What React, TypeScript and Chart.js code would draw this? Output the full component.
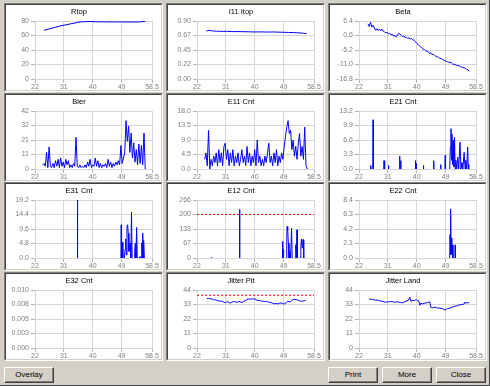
import React, { useEffect, useRef } from 'react';
import { Chart, registerables } from 'chart.js';

Chart.register(...registerables);

// ---------- shared x axis ----------
const X_MIN = 22;
const X_MAX = 58.5;
const X_TICKS = [22, 31, 40, 49, 58.5];
const X_TICK_LABELS = ['22', '31', '40', '49', '58.5'];

// sample positions shared by the dense series
const SAMPLE_X = [
  24.4, 24.8, 25.2, 25.6, 26.0, 26.4, 26.8, 27.2, 27.6, 28.0,
  28.4, 28.8, 29.2, 29.6, 30.0, 30.4, 30.8, 31.2, 31.6, 32.0,
  32.4, 32.8, 33.2, 33.6, 34.0, 34.4, 34.8, 35.2, 35.6, 36.0,
  36.4, 36.8, 37.2, 37.6, 38.0, 38.4, 38.8, 39.2, 39.6, 40.0,
  40.4, 40.8, 41.2, 41.6, 42.0, 42.4, 42.8, 43.2, 43.6, 44.0,
  44.4, 44.8, 45.2, 45.6, 46.0, 46.4, 46.8, 47.2, 47.6, 48.0,
  48.4, 48.8, 49.2, 49.6, 50.0, 50.4, 50.8, 51.2, 51.6, 52.0,
  52.4, 52.8, 53.2, 53.6, 54.0, 54.4, 54.8, 55.2, 55.6, 56.0,
  56.4,
];

// ---------- Rtop ----------
const RTOP_X = [24.8, 25.1, 26.7, 28.3, 29.8, 31.4, 32.9, 34.5, 36.1, 37.6, 39.2, 40.8, 42.3, 44.4, 46.5, 48.6, 50.7, 52.8, 54.8, 56.4];
const RTOP_Y = [66.5, 67.6, 69.4, 71.3, 73.1, 74.5, 75.9, 77.3, 78.7, 79.1, 79.3, 79.0, 78.9, 78.8, 78.7, 78.8, 78.6, 78.7, 78.7, 79.6];
const RTOP_TICKS = ['0', '20', '40', '60', '80'];

// ---------- I11 Itop ----------
const I11_X = [24.9, 25.4, 26.0, 26.5, 27.0, 28.0, 29.1, 30.2, 31.2, 32.3, 33.3, 34.8, 36.4, 38.0, 39.5, 41.0, 42.6, 44.2, 45.8, 47.3, 48.9, 50.5, 52.0, 53.0, 54.1, 55.2, 56.2];
const I11_Y = [0.745, 0.75, 0.756, 0.748, 0.745, 0.742, 0.74, 0.738, 0.74, 0.737, 0.735, 0.736, 0.734, 0.733, 0.73, 0.731, 0.73, 0.729, 0.73, 0.727, 0.725, 0.723, 0.72, 0.718, 0.715, 0.71, 0.704];
const I11_TICKS = ['0.00', '0.22', '0.45', '0.67', '0.90'];

// ---------- Beta ----------
const BETA_Y = [
  null, 5.3, 4.2, 5.9, 4.0, 4.7, 3.6, 2.7, 3.3, 2.6,
  3.2, 2.5, 3.1, 2.2, 2.0, 1.6, 1.9, 1.2, 1.4, 0.9,
  1.1, 0.4, 0.5, 0.1, 0.8, 1.5, 1.1, 0.6, 0.2, 0.4,
  -0.3, -0.1, -0.5, -0.4, -0.8, -0.6, -1.1, -1.3, -1.9, -2.5,
  -2.9, -3.5, -3.9, -4.2, -4.9, -5.0, -5.5, -5.7, -6.0, -6.5,
  -6.3, -7.0, -7.0, -7.3, -7.7, -8.0, -8.1, -8.5, -8.6, -9.0,
  -9.2, -9.5, -9.7, -9.9, -10.1, -10.2, -10.3, -10.8, -10.9, -11.1,
  -11.3, -11.5, -11.4, -11.9, -12.0, -12.1, -12.3, -12.6, -12.9, -13.2,
  -13.7,
];
const BETA_TICKS = ['-16.8', '-11.0', '-5.2', '0.6', '6.4'];

// ---------- Bler ----------
const BLER_Y = [
  3, 4, 2, 12, 1, 16, 2, 1, 4, 1,
  6, 2, 7, 1, 8, 2, 5, 1, 7, 3,
  6, 1, 3, 1, 4, 2, 23, 2, 1, 3,
  1, 2, 1, 3, 1, 5, 2, 7, 1, 3,
  2, 8, 2, 6, 1, 4, 1, 3, 2, 4,
  1, 7, 2, 5, 1, 4, 2, 5, 3, 6,
  3, 17, 4, 8, 12, 35, 20, 31, 12, 26,
  8, 19, 5, 14, 3, 18, 4, 17, 3, 26,
  0,
];
const BLER_TICKS = ['0', '11', '21', '32', '42'];

// ---------- E11 Cnt ----------
const E11_Y = [
  3, 5, 1, 12, 0, 3, 1, 4, 2, 5,
  1, 6, 2, 5, 1, 7, 8, 3, 6, 1,
  5, 2, 6, 1, 4, 2, 5, 1, 3, 6,
  2, 4, 1, 7, 2, 5, 1, 4, 2, 6,
  1, 9, 2, 4, 1, 3, 1, 4, 2, 5,
  8, 2, 4, 1, 5, 2, 6, 1, 4, 2,
  5, 3, 7, 10, 13, 15, 11, 12, 6, 9,
  4, 7, 3, 8, 11, 4, 7, 3, 13, 1,
  0,
];
const E11_TICKS = ['0.0', '4.5', '9.0', '13.5', '18.0'];

// ---------- E21 Cnt ----------
const E21_X = [
  25.55, 25.65, 25.75, 26.0, 26.3, 26.4, 26.5, 27.0,
  29.7, 29.8, 29.9, 30.0, 30.1, 30.5, 31.1, 31.2, 31.3, 32.0,
  34.6, 34.7, 34.8, 35.0, 35.1, 36.0, 39.5, 39.6, 39.7, 39.8, 39.9, 41.0,
  42.0, 42.1, 42.2, 43.0, 45.2, 45.3, 45.4, 46.0, 47.4, 47.5, 47.6, 48.0,
  48.8, 48.9, 49.0, 49.5,
  50.3, 50.5, 50.7, 50.85, 51.0, 51.2, 51.4, 51.6, 51.8, 52.0, 52.2, 52.5, 52.8,
  53.1, 53.5, 53.8, 54.1, 54.4, 54.8, 55.1, 55.3, 55.6, 55.9, 56.1, 56.2, 56.3,
];
const E21_Y = [
  0, 0.8, 0, null, 0, 11.2, 0, null,
  0, 1.9, 0, 1.9, 0, null, 0, 0.8, 0, null,
  0, 2.9, 0, 1.9, 0, null, 0, 1.9, 0, 1.2, 0, null,
  0, 0.8, 0, null, 0, 1.9, 0, null, 0, 1.0, 0, null,
  0, 3.1, 0, null,
  0, 5.0, 9.2, 2.0, 8.0, 1.0, 6.5, 0.5, 7.2, 0, 2.0, 0, 2.7,
  0, 6.1, 0, 1.5, 0, 3.8, 0, 2.0, 0, 5.0, 0, 1.0, 0,
];
const E21_TICKS = ['0.0', '3.3', '6.6', '9.9', '13.2'];

// ---------- E31 Cnt ----------
const E31_X = [
  35.2, 35.25, 35.3, 40.0,
  48.8, 48.9, 49.0, 49.2, 49.4, 49.6,
  49.9, 50.1, 50.3, 50.5, 50.7, 50.9, 51.1, 51.3, 51.5, 51.7, 51.9, 52.1, 52.3, 52.6,
  52.9, 53.1, 53.3, 53.5, 53.7, 53.9, 54.2,
  54.6, 54.8, 55.1, 55.3, 55.5, 55.6, 55.8, 55.9, 56.1,
];
const E31_Y = [
  0, 19.2, 0, null,
  0, 11, 0, 5.2, 0, null,
  0, 3, 6.3, 1, 10.4, 11, 8.2, 2.2, 3, 5, 0, 15.1, 0, null,
  0, 2, 4.9, 0, 10.1, 0, null,
  0, 0.5, 0, 5, 0, 8.2, 0, 5.8, 0,
];
const E31_TICKS = ['0.0', '4.8', '9.6', '14.4', '19.2'];

// ---------- E12 Cnt ----------
const E12_X = [
  26.3, 26.7, 30.0,
  35.2, 35.25, 35.3, 35.35, 35.4, 40.0,
  48.6, 48.7, 48.8, 48.9, 49.0, 49.4,
  49.8, 50.0, 50.1, 50.3, 50.5, 50.7, 51.0, 51.2, 51.5, 51.7, 52.2,
  52.6, 52.8, 53.0, 53.2, 53.3, 53.8,
  54.2, 54.4, 54.6, 54.8, 55.0, 55.2, 55.3,
];
const E12_Y = [
  1, 1, null,
  0, 223, 0, 208, 0, null,
  0, 76, 0, 38, 0, null,
  0, 91, 144, 129, 68, 0, 30, 0, 137, 0, null,
  0, 61, 0, 129, 0, null,
  0, 53, 87, 46, 84, 84, 0,
];
const E12_LIMIT = 200;
const E12_TICKS = ['0', '67', '133', '200', '266'];

// ---------- E22 Cnt ----------
const E22_X = [50.3, 50.4, 50.5, 50.65, 50.75, 50.9, 51.0, 51.2, 51.3, 51.6, 51.9, 52.0, 52.1];
const E22_Y = [0, 3.4, 0.5, 7.1, 1, 2.9, 0.5, 1.9, 0, null, 0, 1.9, 0];
const E22_TICKS = ['0.0', '2.1', '4.2', '6.3', '8.4'];

// ---------- E32 Cnt ----------
const E32_X: number[] = [];
const E32_Y: number[] = [];
const E32_TICKS = ['0.000', '0.003', '0.005', '0.008', '0.010'];

// ---------- Jitter Pit ----------
const JP_X = [
  25.1, 25.6, 26.2, 26.7, 27.2, 27.8, 28.3, 28.8, 29.3, 29.8,
  30.3, 30.9, 31.4, 31.9, 32.4, 32.9, 33.4, 34.0, 34.5, 35.0,
  35.5, 36.1, 36.6, 37.1, 37.6, 38.1, 38.6, 39.1, 39.6, 40.1,
  40.6, 41.1, 41.6, 42.1, 42.6, 43.1, 43.6, 44.1, 44.6, 45.1,
  45.6, 46.2, 46.7, 47.2, 47.7, 48.2, 48.7, 49.3, 49.8, 50.3,
  50.8, 51.3, 51.8, 52.3, 52.9, 53.4, 53.9, 54.4, 54.9, 55.4,
  55.9,
];
const JP_Y = [
  37.5, 37.6, 37.4, 37.2, 36.4, 36.6, 36.0, 35.9, 35.4, 35.7,
  34.8, 34.4, 35.2, 34.6, 34.0, 34.8, 35.3, 35.0, 34.5, 35.4,
  35.0, 34.4, 35.6, 35.9, 36.8, 37.2, 37.0, 37.3, 37.2, 37.2,
  36.4, 36.0, 36.2, 35.4, 35.6, 35.2, 35.4, 34.9, 34.7, 34.4,
  34.0, 33.6, 33.8, 33.4, 33.9, 34.2, 33.8, 33.4, 34.2, 35.4,
  35.0, 35.2, 36.7, 36.9, 36.7, 36.4, 35.9, 35.6, 35.4, 36.0,
  35.8,
];
const JP_LIMIT = 40;
const JITTER_TICKS = ['0', '11', '22', '33', '44'];

// ---------- Jitter Land ----------
const JL_X = [
  25.1, 25.6, 26.2, 26.7, 27.2, 27.8, 28.3, 28.8, 29.3, 29.8,
  30.3, 30.9, 31.4, 31.9, 32.4, 33.0, 33.5, 34.0, 34.5, 35.0,
  35.6, 36.1, 36.6, 37.0, 37.4, 37.85, 38.2, 38.7, 39.2, 39.6,
  39.9, 40.3, 40.6, 41.0, 41.3, 41.8, 42.3, 42.9, 43.3, 43.7,
  44.1, 44.4, 44.9, 45.5, 46.0, 46.5, 47.0, 47.6, 48.1, 48.5,
  48.9, 49.2, 49.6, 50.1, 50.7, 51.2, 51.7, 52.3, 52.8, 53.3,
  53.8, 54.3, 54.8, 55.1, 55.4, 55.9, 56.4,
];
const JL_Y = [
  37.2, 37.0, 36.9, 36.6, 36.2, 36.4, 35.9, 35.6, 35.4, 35.0,
  34.7, 35.1, 34.9, 35.3, 35.2, 34.8, 34.9, 35.1, 34.7, 34.5,
  34.2, 34.9, 35.4, 35.8, 36.2, 38.5, 35.4, 36.2, 35.9, 36.5,
  36.7, 35.8, 36.0, 32.4, 34.0, 33.4, 33.9, 34.2, 34.5, 34.7,
  35.0, 30.9, 30.4, 30.9, 30.9, 30.2, 30.4, 30.1, 29.9, 29.3,
  28.8, 29.4, 29.9, 30.1, 30.6, 31.0, 31.6, 31.8, 32.4, 32.6,
  32.9, 33.1, 33.4, 34.9, 34.0, 34.4, 34.2,
];

// ---------- panel list ----------
type Panel = {
  title: string;
  xs: number[];
  ys: (number | null)[];
  yMin: number;
  yMax: number;
  yLabels: string[];
  limit?: number;
};

const PANELS: Panel[] = [
  { title: 'Rtop', xs: RTOP_X, ys: RTOP_Y, yMin: 0, yMax: 80, yLabels: RTOP_TICKS },
  { title: 'I11 Itop', xs: I11_X, ys: I11_Y, yMin: 0, yMax: 0.9, yLabels: I11_TICKS },
  { title: 'Beta', xs: SAMPLE_X, ys: BETA_Y, yMin: -16.8, yMax: 6.4, yLabels: BETA_TICKS },
  { title: 'Bler', xs: SAMPLE_X, ys: BLER_Y, yMin: 0, yMax: 42, yLabels: BLER_TICKS },
  { title: 'E11 Cnt', xs: SAMPLE_X, ys: E11_Y, yMin: 0, yMax: 18, yLabels: E11_TICKS },
  { title: 'E21 Cnt', xs: E21_X, ys: E21_Y, yMin: 0, yMax: 13.2, yLabels: E21_TICKS },
  { title: 'E31 Cnt', xs: E31_X, ys: E31_Y, yMin: 0, yMax: 19.2, yLabels: E31_TICKS },
  { title: 'E12 Cnt', xs: E12_X, ys: E12_Y, yMin: 0, yMax: 266, yLabels: E12_TICKS, limit: E12_LIMIT },
  { title: 'E22 Cnt', xs: E22_X, ys: E22_Y, yMin: 0, yMax: 8.4, yLabels: E22_TICKS },
  { title: 'E32 Cnt', xs: E32_X, ys: E32_Y, yMin: 0, yMax: 0.01, yLabels: E32_TICKS },
  { title: 'Jitter Pit', xs: JP_X, ys: JP_Y, yMin: 0, yMax: 44, yLabels: JITTER_TICKS, limit: JP_LIMIT },
  { title: 'Jitter Land', xs: JL_X, ys: JL_Y, yMin: 0, yMax: 44, yLabels: JITTER_TICKS },
];

const BUTTONS = [
  { label: 'Overlay', left: 4 },
  { label: 'Print', left: 328 },
  { label: 'More', left: 382 },
  { label: 'Close', left: 436 },
];

const FONT = "'Liberation Sans', Arial, sans-serif";
const GRID = '#d6d6d6';
const TICK_TEXT = '#808080';

const COL_LEFT = [4, 166, 328];
const ROW_TOP = [3, 93, 182, 272];
const PANEL_W = 159;
const PANEL_H = 89;
const CANVAS_W = PANEL_W - 4;
const CANVAS_H = PANEL_H - 4;

function MiniChart({ panel }: { panel: Panel }) {
  const ref = useRef<HTMLCanvasElement | null>(null);

  useEffect(() => {
    if (!ref.current) return;
    const datasets: any[] = [
      {
        data: panel.xs.map((x, i) => ({ x, y: panel.ys[i] })),
        borderColor: '#0000ff',
        backgroundColor: '#0000ff',
        borderWidth: 1,
        pointRadius: 0,
        tension: 0,
        spanGaps: false,
        fill: false,
      },
    ];
    if (panel.limit !== undefined) {
      datasets.push({
        data: [
          { x: X_MIN, y: panel.limit },
          { x: X_MAX, y: panel.limit },
        ],
        borderColor: '#ff0000',
        borderWidth: 1,
        borderDash: [2, 2],
        pointRadius: 0,
        fill: false,
      });
    }
    const n = panel.yLabels.length;
    const yTickValues = panel.yLabels.map(
      (_, i) => panel.yMin + ((panel.yMax - panel.yMin) * i) / (n - 1)
    );
    const tickFont = { family: FONT, size: 7 };

    const chart = new Chart(ref.current, {
      type: 'line',
      data: { datasets },
      options: {
        animation: false,
        responsive: false,
        devicePixelRatio: 1,
        events: [],
        layout: { padding: { left: 0, right: 9, top: 0, bottom: 0 } },
        plugins: {
          legend: { display: false },
          tooltip: { enabled: false },
          title: {
            display: true,
            text: panel.title,
            color: '#000000',
            font: { family: FONT, size: 7.5, weight: 'normal', lineHeight: 1.2 },
            padding: { top: 2, bottom: 5 },
          },
        },
        scales: {
          x: {
            type: 'linear',
            min: X_MIN,
            max: X_MAX,
            afterBuildTicks: (s: any) => {
              s.ticks = X_TICKS.map((v) => ({ value: v }));
            },
            afterFit: (s: any) => {
              s.height = 11;
            },
            ticks: {
              autoSkip: false,
              maxRotation: 0,
              padding: 0,
              color: TICK_TEXT,
              font: tickFont,
              callback: (_v: any, i: number) => X_TICK_LABELS[i],
            },
            grid: { color: GRID, tickLength: 4, tickColor: '#b4b4b4' },
            border: { color: GRID },
          },
          y: {
            type: 'linear',
            min: panel.yMin,
            max: panel.yMax,
            afterBuildTicks: (s: any) => {
              s.ticks = yTickValues.map((v) => ({ value: v }));
            },
            afterFit: (s: any) => {
              s.width = 29;
            },
            ticks: {
              autoSkip: false,
              padding: 2,
              color: TICK_TEXT,
              font: tickFont,
              callback: (_v: any, i: number) => panel.yLabels[i],
            },
            grid: { color: GRID, tickLength: 4, tickColor: '#b4b4b4' },
            border: { color: GRID },
          },
        },
      } as any,
    });
    return () => chart.destroy();
  }, [panel]);

  return (
    <canvas
      ref={ref}
      width={CANVAS_W}
      height={CANVAS_H}
      style={{ display: 'block', width: CANVAS_W, height: CANVAS_H }}
    />
  );
}

export default function App() {
  return (
    <div
      style={{
        position: 'absolute',
        left: 0,
        top: 0,
        width: 490,
        height: 386,
        background: '#d4d0c8',
        boxSizing: 'border-box',
        borderBottom: '1px solid #404040',
        borderRight: '1px solid #404040',
        fontFamily: FONT,
        overflow: 'hidden',
      }}
    >
      {PANELS.map((p, i) => (
        <div
          key={p.title}
          style={{
            position: 'absolute',
            left: COL_LEFT[i % 3],
            top: ROW_TOP[Math.floor(i / 3)],
            width: PANEL_W,
            height: PANEL_H,
            boxSizing: 'border-box',
            borderStyle: 'solid',
            borderWidth: 1,
            borderColor: '#808080 #ffffff #ffffff #808080',
          }}
        >
          <div
            style={{
              width: PANEL_W - 2,
              height: PANEL_H - 2,
              boxSizing: 'border-box',
              borderStyle: 'solid',
              borderWidth: 1,
              borderColor: '#404040 #d4d0c8 #d4d0c8 #404040',
              background: '#ffffff',
            }}
          >
            <MiniChart panel={p} />
          </div>
        </div>
      ))}
      {BUTTONS.map((b) => (
        <div
          key={b.label}
          style={{
            position: 'absolute',
            left: b.left,
            top: 367,
            width: 50,
            height: 16,
            boxSizing: 'border-box',
            borderStyle: 'solid',
            borderWidth: 1,
            borderColor: '#ffffff #404040 #404040 #ffffff',
            boxShadow: 'inset -1px -1px 0 #808080',
            background: '#d4d0c8',
            fontSize: 8,
            lineHeight: '13px',
            textAlign: 'center',
            color: '#000000',
          }}
        >
          {b.label}
        </div>
      ))}
    </div>
  );
}
